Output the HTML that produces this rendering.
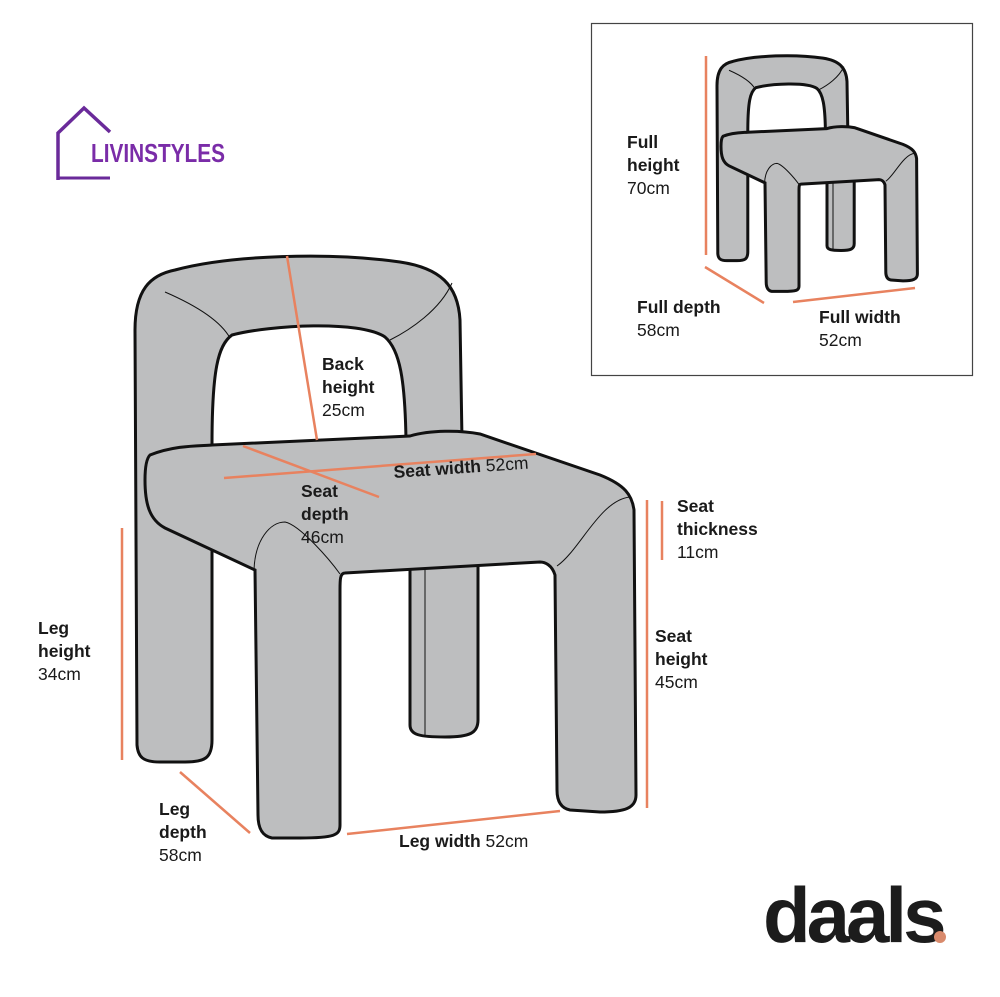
<!DOCTYPE html>
<html><head><meta charset="utf-8"><style>
html,body{margin:0;padding:0;background:#fff;}
svg{display:block;}
text{font-family:"Liberation Sans",sans-serif;font-size:17.5px;fill:#1a1a1a;}
.b{font-weight:bold;}
</style></head><body>
<svg width="1000" height="997" viewBox="0 0 1000 997" xmlns="http://www.w3.org/2000/svg">
<defs>
<g id="chair" fill="#bdbebf" stroke="#111">
  <path vector-effect="non-scaling-stroke" stroke-width="3" d="M137,745 L135,330 C135,290 150,275 175,270 C230,255 330,252 400,262 C440,268 458,285 460,320 L462,440 L406,440 C405,380 400,350 385,337 C360,320 270,325 232,335 C218,345 212,370 212,445 L212,740 C212,758 205,762 185,762 L160,762 C143,762 138,757 137,745 Z"/>
  <path vector-effect="non-scaling-stroke" stroke-width="3" d="M410,560 L410,725 C410,735 420,737 445,737 C470,737 478,733 478,720 L478,560 Z"/>
  <path vector-effect="non-scaling-stroke" stroke-width="1" fill="none" d="M425,565 L425,735"/>
  <path vector-effect="non-scaling-stroke" stroke-width="3" d="M150,455 C175,445 200,446 212,445 L410,436 C430,430 460,430 480,434 L600,475 C625,485 632,495 634,510 L636,795 C636,808 625,812 600,812 L570,810 C560,808 557,800 557,790 L555,575 C552,565 545,562 540,562 L345,573 C340,573 340,580 340,590 L340,825 C340,835 335,838 300,838 L272,838 C262,836 258,828 258,815 L255,570 L165,528 C150,520 145,505 145,480 C145,465 147,458 150,455 Z"/>
  <path vector-effect="non-scaling-stroke" stroke-width="1" fill="none" d="M254,570 C255,540 270,522 285,522 C300,525 330,560 340,574"/>
  <path vector-effect="non-scaling-stroke" stroke-width="1" fill="none" d="M557,566 C580,550 600,500 630,497"/>
  <path vector-effect="non-scaling-stroke" stroke-width="1" fill="none" d="M165,292 C195,305 220,320 230,338"/>
  <path vector-effect="non-scaling-stroke" stroke-width="1" fill="none" d="M452,283 C440,310 410,330 390,340"/>
</g>
</defs>

<!-- Livinstyles logo -->
<path d="M58,180 L58,133 L84,108 L110,132" fill="none" stroke="#6a2a9a" stroke-width="3.5"/>
<path d="M58,178 L110,178" stroke="#6a2a9a" stroke-width="3"/>
<g transform="translate(91,162) scale(0.80,1)"><text x="0" y="0" style="font-size:26px;font-weight:bold;fill:#7a2ca8">LIVINSTYLES</text></g>

<use href="#chair"/>

<!-- main measurement lines -->
<g stroke="#e8825f" stroke-width="2.5" fill="none">
  <line x1="287" y1="256" x2="317" y2="440"/>
  <line x1="224" y1="478" x2="536" y2="454"/>
  <line x1="243" y1="446" x2="379" y2="497"/>
  <line x1="122" y1="528" x2="122" y2="760"/>
  <line x1="180" y1="772" x2="250" y2="833"/>
  <line x1="347" y1="834" x2="560" y2="811"/>
  <line x1="647" y1="500" x2="647" y2="808"/>
  <line x1="662" y1="501" x2="662" y2="560"/>
</g>

<text class="b" x="322" y="370">Back</text>
<text class="b" x="322" y="393">height</text>
<text x="322" y="416">25cm</text>
<text x="394" y="478" transform="rotate(-4 394 478)"><tspan class="b">Seat width</tspan> 52cm</text>
<text class="b" x="301" y="497">Seat</text>
<text class="b" x="301" y="520">depth</text>
<text x="301" y="543">46cm</text>
<text class="b" x="677" y="512">Seat</text>
<text class="b" x="677" y="535">thickness</text>
<text x="677" y="558">11cm</text>
<text class="b" x="655" y="642">Seat</text>
<text class="b" x="655" y="665">height</text>
<text x="655" y="688">45cm</text>
<text class="b" x="38" y="634">Leg</text>
<text class="b" x="38" y="657">height</text>
<text x="38" y="680">34cm</text>
<text class="b" x="159" y="815">Leg</text>
<text class="b" x="159" y="838">depth</text>
<text x="159" y="861">58cm</text>
<text x="399" y="847"><tspan class="b">Leg width</tspan> 52cm</text>

<!-- inset -->
<rect x="591.5" y="23.5" width="381" height="352" fill="none" stroke="#444" stroke-width="1.2"/>
<use href="#chair" transform="translate(663,-48) scale(0.4,0.405)"/>
<g stroke="#e8825f" stroke-width="2.5" fill="none">
  <line x1="706" y1="56" x2="706" y2="255"/>
  <line x1="705" y1="267" x2="764" y2="303"/>
  <line x1="793" y1="302" x2="915" y2="288"/>
</g>
<text class="b" x="627" y="148">Full</text>
<text class="b" x="627" y="171">height</text>
<text x="627" y="194">70cm</text>
<text class="b" x="637" y="313">Full depth</text>
<text x="637" y="336">58cm</text>
<text class="b" x="819" y="323">Full width</text>
<text x="819" y="346">52cm</text>

<!-- daals logo -->
<text x="763" y="942" style="font-size:78px;font-weight:bold;fill:#1c1c1c;letter-spacing:-4px">daals</text>
<circle cx="940" cy="937" r="6" fill="#d98a6c"/>
</svg>
</body></html>
